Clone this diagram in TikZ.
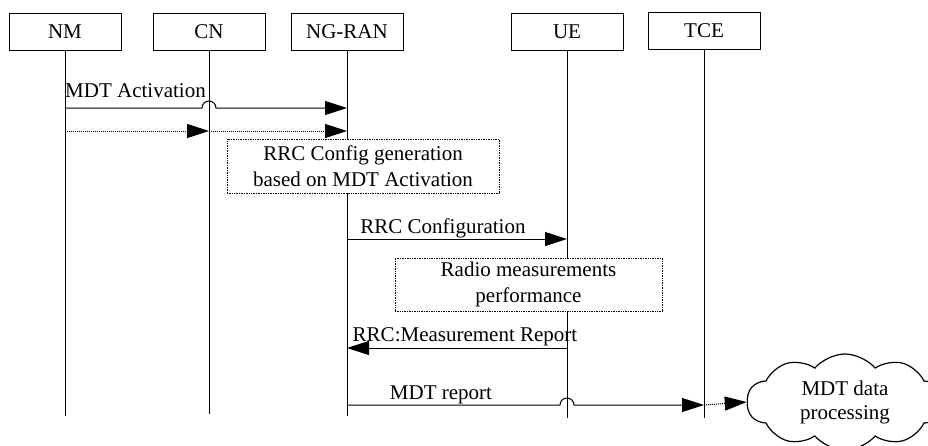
\documentclass[tikz,border=0pt]{standalone}
\usepackage{fontspec}
\setmainfont{Liberation Serif}
\usetikzlibrary{arrows.meta,shapes.symbols}

\tikzset{
  actor/.style={draw, line width=0.8pt, minimum width=112pt, minimum height=37pt, inner sep=0pt, font=\fontsize{21}{24}\selectfont},
  msg/.style={line width=1pt, -{Triangle[length=22pt,width=14pt]}},
  note/.style={draw, densely dotted, line width=0.7pt, fill=white, align=center, inner sep=0pt, font=\fontsize{21}{26}\selectfont},
  lbl/.style={inner sep=0pt, font=\fontsize{21}{24}\selectfont}
}

\begin{document}
\begin{tikzpicture}[x=1pt,y=-1pt]
    \useasboundingbox (0,0) rectangle (928,445);
    % Entities
    \node[actor] (nm) at (65,31.5) {NM};
    \node[actor] (cn) at (209,31.5) {CN};
    \node[actor] (ngran) at (347,31.5) {NG-RAN};
    \node[actor] (ue) at (567,31.5) {UE};
    \node[actor] (tce) at (704,30.5) {TCE};
    % Lifelines
    \coordinate (nm-end) at (65,416);
    \coordinate (cn-end) at (209,414);
    \coordinate (ngran-end) at (347,416);
    \coordinate (ue-end) at (567,418);
    \coordinate (tce-end) at (704,418);
    \draw[line width=1pt] (nm) -- (nm-end);
    \draw[line width=1pt] (cn) -- (cn-end);
    \draw[line width=1pt] (ngran) -- (ngran-end);
    \draw[line width=1pt] (ue) -- (ue-end);
    \draw[line width=1pt] (tce) -- (tce-end);
    % Message points
    \coordinate (act-s) at (65,108);
    \coordinate (act-e) at (347,108);
    \coordinate (fwd-s) at (65,131);
    \coordinate (fwd-m) at (209,131);
    \coordinate (fwd-e) at (347,131);
    \coordinate (cfg-s) at (347,239);
    \coordinate (cfg-e) at (567,239);
    \coordinate (rep-s) at (567,348);
    \coordinate (rep-e) at (347,348);
    \coordinate (mdt-s) at (347,405);
    \coordinate (mdt-e) at (704,405);
    % MDT Activation (hops over CN)
    \draw[msg] (act-s) -- ([xshift=-7pt]cn |- act-s) arc[start angle=180, end angle=0, radius=7pt] -- (act-e);
    \node[lbl, anchor=south west] (actlbl) at (65,98) {MDT Activation};
    \draw[msg, densely dotted] (fwd-s) -- (fwd-m);
    \draw[msg, densely dotted] (fwd-m) -- (fwd-e);
    % RRC config generation
    \node[note, minimum width=272pt, minimum height=54pt] (gen) at (363,166) {RRC Config generation\\based on MDT Activation};
    % RRC Configuration
    \draw[msg] (cfg-s) -- (cfg-e);
    \node[lbl] (cfglbl) at (443,228) {RRC Configuration};
    % Radio measurements
    \node[note, minimum width=267pt, minimum height=53pt] (meas) at (528.5,284.5) {Radio measurements\\performance};
    % Measurement report
    \draw[msg] (rep-s) -- (rep-e);
    \node[lbl] (replbl) at (465,337) {RRC:Measurement Report};
    % MDT report (hops over UE)
    \draw[msg] (mdt-s) -- ([xshift=-7pt]ue |- mdt-s) arc[start angle=180, end angle=0, radius=7pt] -- (mdt-e);
    \node[lbl] (mdtlbl) at (441,395) {MDT report};
    % Processing at TCE
    \node[cloud, draw, line width=1.2pt, cloud puffs=10, cloud puff arc=100, aspect=2, minimum width=196pt, minimum height=96pt, align=center, inner sep=0pt, font=\fontsize{21}{24}\selectfont] (proc) at (845,402) {MDT data\\processing};
    \draw[msg, densely dotted] (mdt-e) -- (proc.west);
\end{tikzpicture}
\end{document}
